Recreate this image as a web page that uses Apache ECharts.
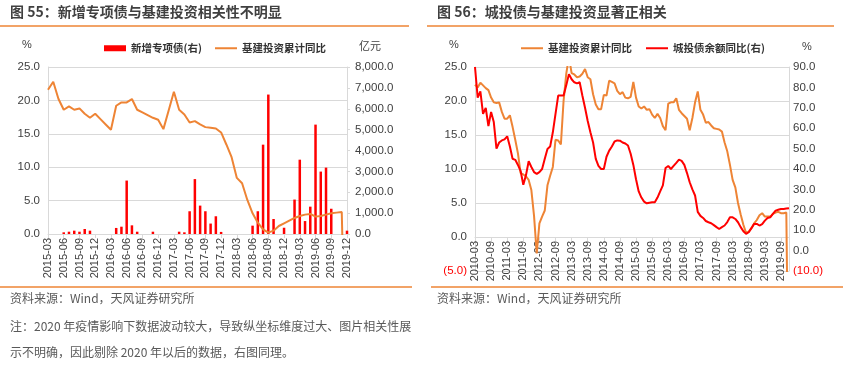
<!DOCTYPE html>
<html><head><meta charset="utf-8">
<script src="https://cdn.jsdelivr.net/npm/echarts@6/dist/echarts.min.js"></script>
<style>html,body{margin:0;padding:0;background:#fff}#c{width:843px;height:366px}</style>
</head><body><div id="c"></div>
<script>
// ---------- Chart 55 data ----------
const monthsA = ['2015-03','2015-04','2015-05','2015-06','2015-07','2015-08','2015-09','2015-10','2015-11','2015-12',
'2016-01','2016-02','2016-03','2016-04','2016-05','2016-06','2016-07','2016-08','2016-09','2016-10','2016-11','2016-12',
'2017-01','2017-02','2017-03','2017-04','2017-05','2017-06','2017-07','2017-08','2017-09','2017-10','2017-11','2017-12',
'2018-01','2018-02','2018-03','2018-04','2018-05','2018-06','2018-07','2018-08','2018-09','2018-10','2018-11','2018-12',
'2019-01','2019-02','2019-03','2019-04','2019-05','2019-06','2019-07','2019-08','2019-09','2019-10','2019-11','2019-12'];
const specialBonds = [null,null,null,80,110,160,110,240,160,null,
 null,null,null,290,350,2560,415,110,null,null,
 110,null,null,null,null,110,80,1090,2630,1360,
 1090,500,850,100,null,null,null,null,null,400,
 1090,4280,6680,720,null,300,null,1650,3560,620,
 1310,5240,2990,3180,1210,null,null,160];
const infraA = [21.6,22.8,20.2,18.6,19.1,18.6,18.8,18.0,17.4,18.0,
 17.2,16.4,15.6,19.2,19.7,19.7,20.2,18.6,18.2,17.8,
 17.4,17.1,15.7,18.5,21.3,18.6,17.9,16.7,16.9,16.4,
 16.0,15.9,15.8,15.2,13.4,11.5,8.4,7.6,5.1,3.1,
 1.7,0.7,0.2,0.5,1.2,1.6,2.0,2.4,2.7,2.9,
 3.0,2.6,2.7,2.9,3.1,3.2,3.3,-30.3];

// ---------- Chart 56 data ----------
const monthsB = ['2010-03','2010-04','2010-05','2010-06','2010-07','2010-08','2010-09','2010-10','2010-11','2010-12',
'2011-01','2011-02','2011-03','2011-04','2011-05','2011-06','2011-07','2011-08','2011-09','2011-10','2011-11','2011-12',
'2012-01','2012-02','2012-03','2012-04','2012-05','2012-06','2012-07','2012-08','2012-09','2012-10','2012-11','2012-12',
'2013-01','2013-02','2013-03','2013-04','2013-05','2013-06','2013-07','2013-08','2013-09','2013-10','2013-11','2013-12',
'2014-01','2014-02','2014-03','2014-04','2014-05','2014-06','2014-07','2014-08','2014-09','2014-10','2014-11','2014-12',
'2015-01','2015-02','2015-03','2015-04','2015-05','2015-06','2015-07','2015-08','2015-09','2015-10','2015-11','2015-12',
'2016-01','2016-02','2016-03','2016-04','2016-05','2016-06','2016-07','2016-08','2016-09','2016-10','2016-11','2016-12',
'2017-01','2017-02','2017-03','2017-04','2017-05','2017-06','2017-07','2017-08','2017-09','2017-10','2017-11','2017-12',
'2018-01','2018-02','2018-03','2018-04','2018-05','2018-06','2018-07','2018-08','2018-09','2018-10','2018-11','2018-12',
'2019-01','2019-02','2019-03','2019-04','2019-05','2019-06','2019-07','2019-08','2019-09','2019-10','2019-11','2019-12'];
const infraB = [22.4,22.0,22.7,22.3,21.9,21.6,20.5,19.8,19.7,19.8,
 18.4,17.4,17.4,17.9,16.2,14.3,12.3,9.4,9.2,8.9,
 8.4,6.9,3.1,-2.4,2.0,3.0,3.9,7.6,9.0,10.3,
 14.3,14.2,13.6,20.0,24.0,26.5,24.1,23.9,23.5,23.6,
 24.0,24.7,23.5,23.2,21.0,19.5,18.8,18.8,20.9,20.8,
 23.0,22.8,22.6,21.5,21.0,21.3,20.5,20.4,20.6,22.8,
 20.5,19.2,18.9,19.2,18.7,18.8,18.0,17.5,18.1,17.5,
 16.3,15.7,19.6,19.8,19.8,20.4,18.7,18.2,17.8,17.4,
 15.7,17.5,19.8,21.4,18.7,18.0,16.8,16.9,16.4,16.0,
 15.9,15.8,15.5,13.9,12.6,10.6,8.4,7.3,5.0,3.3,
 1.8,0.6,0.8,1.3,2.0,2.5,3.2,3.5,3.0,3.0,
 3.0,3.4,3.6,3.7,3.5,3.5,3.6,-30.3];
const lgfvDebt = [90,75,78,67,70,61,68,63,50,53,
 54,54.5,56,51,45,44.5,42,39,32.3,37,
 43.8,41,38.5,37.6,38.5,40,45,49.8,51,58,
 67,76,76,76,81,86.5,84,82.5,82,82.5,
 76,70,63.5,58,53,45,41.5,40,40,46,
 49,51,53.5,54,53.9,53,52.5,51.5,47.5,42,
 35,29,26,24,23.2,23.5,23.7,23.7,26,29,
 32,40.5,41.5,40,41.5,43,44.6,44,42,38,
 33.5,30,27,19,17,16,14.5,13.9,13.4,12.5,
 11.5,10.6,11.5,12.3,14,16.3,16.3,15.5,13.9,11.5,
 9.5,8.2,9.0,11,13.1,13.1,12.3,13,14.7,16,
 16.3,18,19.6,20,20.4,20.4,20.6,20.8];

const ORANGE = '#EE8435', RED = '#FF0000', GRID = '#d9d9d9', TXT = '#404040';
const LAT = 'Liberation Sans, Arial, Noto Sans CJK SC, sans-serif';
const CJK = 'Noto Sans CJK SC, sans-serif';

const negFmt = v => v < 0 ? '{neg|(' + Math.abs(v).toFixed(1) + ')}' : v.toFixed(1);
const yLabel = (fmt, margin) => ({color: TXT, fontSize: 11.5, fontFamily: LAT, margin: margin, formatter: fmt,
  rich: {neg: {color: RED, fontSize: 11.5, fontFamily: LAT}}});
const xAxisBase = (gi, data, interval) => ({
  type: 'category', gridIndex: gi, data: data, boundaryGap: false,
  axisLine: {onZero: false, lineStyle: {color: GRID}},
  axisTick: {show: true, interval: interval, length: 4, lineStyle: {color: GRID}},
  axisLabel: {interval: interval, rotate: 90, color: TXT, fontSize: 11, fontFamily: LAT, margin: 4},
  splitLine: {show: false}
});
const legendText = {fontSize: 10.5, fontWeight: 'bold', color: '#333', fontFamily: CJK};
const lineLegend = (left, name) => ({left: left, top: 38, itemWidth: 22, itemHeight: 2, icon: 'rect',
  data: [name], textStyle: legendText});

const chart = echarts.init(document.getElementById('c'), null, {renderer: 'canvas'});
chart.setOption({
  animation: false,
  grid: [
    {left: 48, top: 67, width: 299, height: 167},
    {left: 475, top: 67, width: 314, height: 204}
  ],
  legend: [
    {left: 99, top: 38, itemWidth: 22, itemHeight: 6, icon: 'rect',
     data: ['新增专项债(右)'], textStyle: legendText},
    lineLegend(210, '基建投资累计同比'),
    lineLegend(516, '基建投资累计同比'),
    lineLegend(641, '城投债余额同比(右)')
  ],
  xAxis: [
    xAxisBase(0, monthsA, 2),
    Object.assign(xAxisBase(1, monthsB, 5), {offset: -34})
  ],
  yAxis: [
    {type: 'value', gridIndex: 0, min: 0, max: 25, interval: 5, position: 'left',
     axisLine: {show: true, lineStyle: {color: GRID}}, axisTick: {show: false},
     axisLabel: yLabel(v => v.toFixed(1), 8), splitLine: {lineStyle: {color: GRID}}},
    {type: 'value', gridIndex: 0, min: 0, max: 8000, interval: 1000, position: 'right',
     axisLine: {show: true, lineStyle: {color: GRID}}, axisTick: {show: true, length: 3, lineStyle: {color: GRID}},
     axisLabel: yLabel(v => v.toLocaleString('en-US', {minimumFractionDigits: 1, maximumFractionDigits: 1}), 8),
     splitLine: {show: false}},
    {type: 'value', gridIndex: 1, min: -5, max: 25, interval: 5, position: 'left',
     axisLine: {show: true, lineStyle: {color: GRID}}, axisTick: {show: false},
     axisLabel: yLabel(negFmt, 8), splitLine: {lineStyle: {color: GRID}}},
    {type: 'value', gridIndex: 1, min: -10, max: 90, interval: 10, position: 'right',
     axisLine: {show: true, lineStyle: {color: GRID}}, axisTick: {show: false},
     axisLabel: yLabel(negFmt, 4), splitLine: {show: false}}
  ],
  series: [
    {name: '新增专项债(右)', type: 'bar', xAxisIndex: 0, yAxisIndex: 1, data: specialBonds,
     barWidth: 2.5, itemStyle: {color: RED}},
    {name: '基建投资累计同比', type: 'line', xAxisIndex: 0, yAxisIndex: 0, data: infraA,
     symbol: 'none', clip: true, lineStyle: {color: ORANGE, width: 2}, itemStyle: {color: ORANGE}, z: 3},
    {name: '基建投资累计同比', type: 'line', xAxisIndex: 1, yAxisIndex: 2, data: infraB,
     symbol: 'none', clip: true, lineStyle: {color: ORANGE, width: 2}, itemStyle: {color: ORANGE}},
    {name: '城投债余额同比(右)', type: 'line', xAxisIndex: 1, yAxisIndex: 3, data: lgfvDebt,
     symbol: 'none', clip: true, lineStyle: {color: RED, width: 2}, itemStyle: {color: RED}, z: 4}
  ],
  graphic: [
    {type: 'text', left: 10, top: 5, style: {text: '图 55：新增专项债与基建投资相关性不明显', font: 'bold 14px Noto Sans CJK SC', fill: TXT}},
    {type: 'text', left: 437, top: 5, style: {text: '图 56：城投债与基建投资显著正相关', font: 'bold 14px Noto Sans CJK SC', fill: TXT}},
    {type: 'line', shape: {x1: 0, y1: 26, x2: 409, y2: 26}, style: {stroke: ORANGE, lineWidth: 1.5}},
    {type: 'line', shape: {x1: 427, y1: 26, x2: 834, y2: 26}, style: {stroke: ORANGE, lineWidth: 1.5}},
    {type: 'text', left: 22, top: 39, style: {text: '%', font: '11px Liberation Sans', fill: TXT}},
    {type: 'text', left: 359, top: 40, style: {text: '亿元', font: '11px Noto Sans CJK SC', fill: TXT}},
    {type: 'text', left: 449, top: 39, style: {text: '%', font: '11px Liberation Sans', fill: TXT}},
    {type: 'text', left: 802, top: 41, style: {text: '%', font: '11px Liberation Sans', fill: TXT}},
    {type: 'line', shape: {x1: 0, y1: 287, x2: 412, y2: 287}, style: {stroke: ORANGE, lineWidth: 1.5}},
    {type: 'line', shape: {x1: 431, y1: 287, x2: 843, y2: 287}, style: {stroke: ORANGE, lineWidth: 1.5}},
    {type: 'text', left: 10, top: 292, style: {text: '资料来源：Wind，天风证券研究所', font: '12px Noto Sans CJK SC', fill: '#595959'}},
    {type: 'text', left: 437, top: 292, style: {text: '资料来源：Wind，天风证券研究所', font: '12px Noto Sans CJK SC', fill: '#595959'}},
    {type: 'text', left: 10, top: 320, style: {text: '注：2020 年疫情影响下数据波动较大，导致纵坐标维度过大、图片相关性展', font: '12px Noto Sans CJK SC', fill: '#595959'}},
    {type: 'text', left: 10, top: 346, style: {text: '示不明确，因此剔除 2020 年以后的数据，右图同理。', font: '12px Noto Sans CJK SC', fill: '#595959'}}
  ]
});
</script>
</body></html>
